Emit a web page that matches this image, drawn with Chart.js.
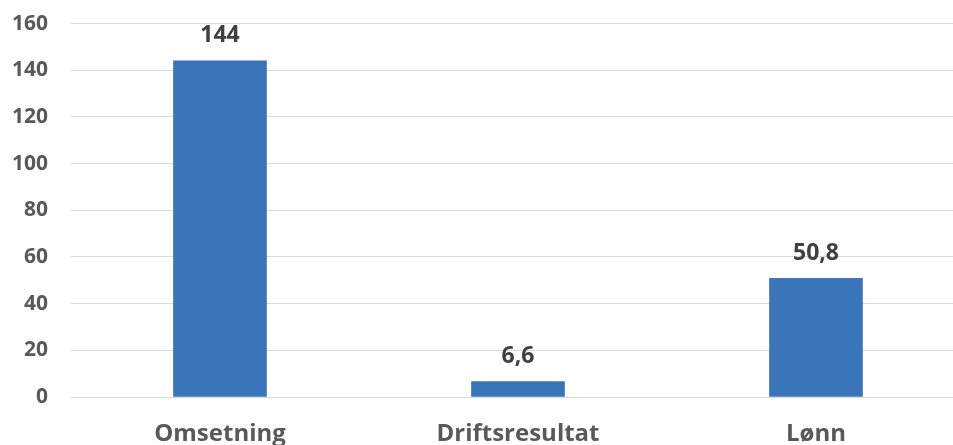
<!DOCTYPE html>
<html>
<head>
<meta charset="utf-8">
<script src="https://cdn.jsdelivr.net/npm/chart.js@4"></script>
<style>
  html, body { margin: 0; padding: 0; background: #fff; }
  #wrap { width: 953px; height: 445px; overflow: hidden; }
  #myChart { display: block; margin-top: -12px; }
</style>
</head>
<body>
<div id="wrap"><canvas id="myChart" width="965" height="457"></canvas></div>
<script>
var categories = ['Omsetning', 'Driftsresultat', 'Lønn'];
var values = [144, 6.6, 50.8];
var yTicks = [0, 20, 40, 60, 80, 100, 120, 140, 160];

var fontFamily = '"Open Sans", "DejaVu Sans", sans-serif';

// value labels above each bar, norwegian decimal comma
var barLabels = {
    id: 'barLabels',
    afterDatasetsDraw: function(chart){
        var ctx = chart.ctx;
        var meta = chart.getDatasetMeta(0);
        ctx.save();
        ctx.font = 'bold 23px ' + fontFamily;
        ctx.fillStyle = '#404040';
        ctx.textAlign = 'center';
        ctx.textBaseline = 'middle';
        meta.data.forEach(function(bar, i){
            ctx.fillText(String(values[i]).replace('.', ','), bar.x, bar.y - 25);
        });
        ctx.restore();
    }
};

var ctx = document.getElementById('myChart').getContext('2d');
var myChart = new Chart(ctx, {
    type: 'bar',
    data: {
        labels: categories,
        datasets: [{
            data: values,
            backgroundColor: '#3A74B9',
            barThickness: 93
        }]
    },
    options: {
        responsive: false,
        animation: false,
        layout: { padding: { top: 10, left: 0, right: 0, bottom: 0 } },
        plugins: { legend: { display: false }, tooltip: { enabled: false } },
        scales: {
            x: {
                grid: { display: false },
                border: { display: false },
                ticks: {
                    color: '#595959',
                    font: { family: fontFamily, size: 24, weight: 'bold' },
                    padding: 15
                },
                afterFit: function(s){ s.height = 48; }
            },
            y: {
                min: 0,
                max: 160,
                afterBuildTicks: function(s){ s.ticks = yTicks.map(function(v){ return { value: v }; }); },
                grid: { color: '#d9d9d9', lineWidth: 1, drawTicks: false },
                border: { display: false },
                ticks: {
                    color: '#595959',
                    font: { family: fontFamily, size: 21, weight: 'bold' },
                    padding: 23
                },
                afterFit: function(s){ s.width = 71; }
            }
        }
    },
    plugins: [barLabels]
});
</script>
</body>
</html>
